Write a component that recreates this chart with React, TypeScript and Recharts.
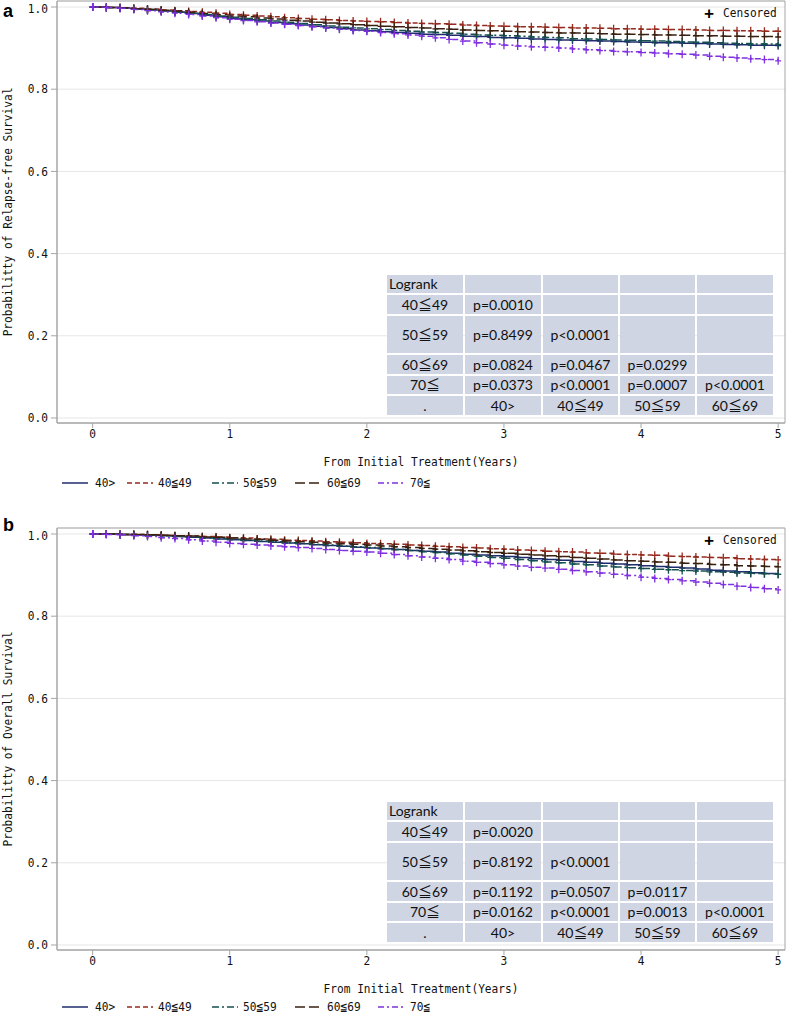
import React from 'react';
import { LineChart, Line, XAxis, YAxis, CartesianGrid, ReferenceArea } from 'recharts';

// ---------- DATA ----------
const TIMES = [
  0.0, 0.1, 0.2, 0.3, 0.4, 0.5, 0.6, 0.7, 0.8, 0.9,
  1.0, 1.1, 1.2, 1.3, 1.4, 1.5, 1.6, 1.7, 1.8, 1.9,
  2.0, 2.1, 2.2, 2.3, 2.4, 2.5, 2.6, 2.7, 2.8, 2.9,
  3.0, 3.1, 3.2, 3.3, 3.4, 3.5, 3.6, 3.7, 3.8, 3.9,
  4.0, 4.1, 4.2, 4.3, 4.4, 4.5, 4.6, 4.7, 4.8, 4.9,
  5.0,
];

const GROUPS = ['40>', '40≦49', '50≦59', '60≦69', '70≦'];

// Panel a: relapse-free survival
const rfs40 = [
  1.000, 0.999, 0.997, 0.995, 0.993, 0.990, 0.987, 0.984, 0.980, 0.976,
  0.972, 0.969, 0.966, 0.962, 0.959, 0.956, 0.953, 0.950, 0.947, 0.944,
  0.942, 0.940, 0.938, 0.936, 0.934, 0.933, 0.931, 0.929, 0.928, 0.926,
  0.925, 0.924, 0.922, 0.921, 0.920, 0.919, 0.918, 0.917, 0.916, 0.915,
  0.914, 0.913, 0.913, 0.912, 0.911, 0.910, 0.909, 0.908, 0.907, 0.907,
  0.906,
];
const rfs40_49 = [
  1.000, 0.999, 0.998, 0.997, 0.995, 0.993, 0.991, 0.989, 0.987, 0.985,
  0.982, 0.980, 0.978, 0.976, 0.974, 0.972, 0.970, 0.969, 0.967, 0.966,
  0.965, 0.964, 0.962, 0.961, 0.960, 0.959, 0.958, 0.956, 0.955, 0.954,
  0.953, 0.952, 0.952, 0.951, 0.950, 0.949, 0.949, 0.948, 0.947, 0.947,
  0.946, 0.946, 0.945, 0.945, 0.944, 0.943, 0.943, 0.942, 0.942, 0.941,
  0.941,
];
const rfs50_59 = [
  1.000, 0.999, 0.998, 0.996, 0.994, 0.991, 0.988, 0.985, 0.982, 0.978,
  0.975, 0.972, 0.969, 0.966, 0.963, 0.960, 0.957, 0.954, 0.951, 0.949,
  0.947, 0.945, 0.943, 0.941, 0.939, 0.938, 0.936, 0.934, 0.932, 0.931,
  0.930, 0.929, 0.927, 0.926, 0.925, 0.923, 0.922, 0.921, 0.920, 0.919,
  0.918, 0.917, 0.916, 0.915, 0.914, 0.913, 0.912, 0.911, 0.910, 0.910,
  0.909,
];
const rfs60_69 = [
  1.000, 0.999, 0.998, 0.996, 0.994, 0.992, 0.990, 0.987, 0.984, 0.981,
  0.978, 0.976, 0.973, 0.971, 0.968, 0.966, 0.963, 0.961, 0.959, 0.957,
  0.955, 0.953, 0.952, 0.950, 0.949, 0.947, 0.946, 0.944, 0.943, 0.942,
  0.941, 0.940, 0.939, 0.938, 0.937, 0.937, 0.936, 0.935, 0.934, 0.934,
  0.933, 0.932, 0.932, 0.931, 0.930, 0.930, 0.929, 0.929, 0.928, 0.928,
  0.927,
];
const rfs70 = [
  1.000, 0.999, 0.997, 0.994, 0.991, 0.988, 0.985, 0.982, 0.978, 0.974,
  0.970, 0.967, 0.964, 0.961, 0.958, 0.955, 0.952, 0.949, 0.946, 0.943,
  0.941, 0.938, 0.935, 0.932, 0.929, 0.925, 0.921, 0.917, 0.913, 0.910,
  0.907, 0.905, 0.903, 0.902, 0.900, 0.898, 0.896, 0.894, 0.892, 0.891,
  0.889, 0.888, 0.886, 0.885, 0.883, 0.880, 0.878, 0.876, 0.874, 0.872,
  0.869,
];

// Panel b: overall survival
const os40 = [
  1.000, 1.000, 0.999, 0.998, 0.997, 0.996, 0.994, 0.992, 0.990, 0.988,
  0.986, 0.984, 0.982, 0.980, 0.978, 0.976, 0.974, 0.972, 0.970, 0.968,
  0.966, 0.964, 0.962, 0.960, 0.958, 0.956, 0.953, 0.951, 0.949, 0.947,
  0.945, 0.943, 0.940, 0.938, 0.936, 0.933, 0.931, 0.929, 0.927, 0.925,
  0.923, 0.921, 0.919, 0.917, 0.915, 0.912, 0.910, 0.908, 0.906, 0.904,
  0.902,
];
const os40_49 = [
  1.000, 1.000, 0.999, 0.999, 0.998, 0.997, 0.996, 0.995, 0.994, 0.993,
  0.991, 0.990, 0.988, 0.987, 0.985, 0.984, 0.983, 0.981, 0.980, 0.979,
  0.977, 0.976, 0.975, 0.973, 0.972, 0.970, 0.969, 0.967, 0.966, 0.964,
  0.963, 0.961, 0.960, 0.958, 0.957, 0.956, 0.954, 0.953, 0.951, 0.950,
  0.949, 0.948, 0.946, 0.945, 0.944, 0.943, 0.942, 0.940, 0.939, 0.938,
  0.937,
];
const os50_59 = [
  1.000, 1.000, 0.999, 0.998, 0.997, 0.996, 0.994, 0.993, 0.991, 0.989,
  0.987, 0.985, 0.983, 0.981, 0.979, 0.977, 0.975, 0.973, 0.971, 0.969,
  0.967, 0.965, 0.962, 0.960, 0.957, 0.955, 0.952, 0.949, 0.946, 0.943,
  0.941, 0.938, 0.935, 0.932, 0.930, 0.927, 0.925, 0.922, 0.920, 0.918,
  0.916, 0.914, 0.913, 0.911, 0.910, 0.908, 0.907, 0.905, 0.904, 0.903,
  0.902,
];
const os60_69 = [
  1.000, 1.000, 0.999, 0.999, 0.998, 0.997, 0.996, 0.995, 0.993, 0.992,
  0.990, 0.988, 0.987, 0.985, 0.983, 0.981, 0.980, 0.978, 0.976, 0.975,
  0.973, 0.971, 0.969, 0.967, 0.965, 0.963, 0.961, 0.959, 0.957, 0.955,
  0.953, 0.951, 0.949, 0.947, 0.945, 0.943, 0.941, 0.939, 0.937, 0.935,
  0.934, 0.932, 0.931, 0.929, 0.928, 0.926, 0.925, 0.923, 0.922, 0.921,
  0.920,
];
const os70 = [
  1.000, 0.999, 0.998, 0.996, 0.994, 0.991, 0.989, 0.986, 0.983, 0.980,
  0.977, 0.975, 0.973, 0.971, 0.969, 0.967, 0.965, 0.962, 0.960, 0.958,
  0.956, 0.953, 0.950, 0.947, 0.944, 0.941, 0.938, 0.934, 0.931, 0.928,
  0.925, 0.922, 0.919, 0.917, 0.914, 0.911, 0.908, 0.905, 0.902, 0.899,
  0.895, 0.892, 0.889, 0.886, 0.883, 0.880, 0.877, 0.873, 0.870, 0.867,
  0.864,
];

const X_TICKS = [0, 1, 2, 3, 4, 5];
const Y_TICKS = [0, 0.2, 0.4, 0.6, 0.8, 1.0];

const TABLE_A = [
  ['Logrank', '', '', '', ''],
  ['40≦49', 'p=0.0010', '', '', ''],
  ['50≦59', 'p=0.8499', 'p<0.0001', '', ''],
  ['60≦69', 'p=0.0824', 'p=0.0467', 'p=0.0299', ''],
  ['70≦', 'p=0.0373', 'p<0.0001', 'p=0.0007', 'p<0.0001'],
  ['.', '40>', '40≦49', '50≦59', '60≦69'],
];
const TABLE_B = [
  ['Logrank', '', '', '', ''],
  ['40≦49', 'p=0.0020', '', '', ''],
  ['50≦59', 'p=0.8192', 'p<0.0001', '', ''],
  ['60≦69', 'p=0.1192', 'p=0.0507', 'p=0.0117', ''],
  ['70≦', 'p=0.0162', 'p<0.0001', 'p=0.0013', 'p<0.0001'],
  ['.', '40>', '40≦49', '50≦59', '60≦69'],
];

// ---------- STYLES ----------
const COLORS = ['#1f2d6e', '#962a1e', '#15504e', '#3a2010', '#8030e0'];
const DASHES = ['', '5 3', '7 3 2 3', '10 4', '6 3 2 3'];
const AX_FONT = '"DejaVu Sans Mono", "Liberation Mono", "Noto Sans CJK JP", monospace';
const AX_SIZE = 13;
const AX_SCALE = 0.86;
const TB_FONT = 'Lato, "Noto Sans CJK JP", sans-serif';
const AXIS_GRAY = '#a6a6a6';
const CELL_BG = '#cfd5e3';

const COL_X = [387, 465, 543, 620, 697];
const COL_W = [76, 76, 75, 75, 76];
const ROW_Y = [275, 295, 316, 355, 376, 396];
const ROW_H = [18, 19, 37, 19, 18, 19];

const LEG_LINE_X = [62, 127, 212, 295, 378];
const LEG_TEXT_X = [95, 158, 243, 327, 410];

const X_DOMAIN = [-0.26, 5.05];
const Y_DOMAIN = [-0.0122, 1.0146];

function buildRows(series: number[][]) {
  return TIMES.map((t, i) => {
    const r: any = { t };
    series.forEach((s, k) => {
      r['g' + k] = s[i];
    });
    return r;
  });
}

// Narrow (condensed) mono text, like the reference's gothic font
function NText(props: { x: number; y: number; anchor?: 'start' | 'middle' | 'end'; rotate?: number; size?: number; weight?: string; fill?: string; children: any }) {
  const { x, y, anchor = 'start', rotate = 0, size = AX_SIZE, weight = 'normal', fill = '#111', children } = props;
  return (
    <text
      transform={`translate(${x},${y}) rotate(${rotate}) scale(${AX_SCALE},1)`}
      x={0}
      y={0}
      textAnchor={anchor}
      dominantBaseline="central"
      fontFamily={AX_FONT}
      fontSize={size}
      fontWeight={weight}
      fill={fill}
    >
      {children}
    </text>
  );
}

const XTick = (props: any) => {
  const { x, y, payload } = props;
  return <NText x={x} y={y + 5} anchor="middle">{String(payload.value)}</NText>;
};
const YTick = (props: any) => {
  const { x, y, payload } = props;
  return <NText x={x} y={y} anchor="end">{Number(payload.value).toFixed(1)}</NText>;
};

const plusDot = (color: string) => (props: any) => {
  const { cx, cy, index } = props;
  if (cx == null || cy == null) return <g key={`e${index}`} />;
  return (
    <path
      key={`p${index}`}
      d={`M${cx - 3},${cy}h6M${cx},${cy - 4}v8`}
      stroke={color}
      strokeWidth={1.3}
      fill="none"
    />
  );
};

function Panel(props: { top: number; height: number; letter: string; letterY: number; legendY: number; yTitle: string; series: number[][]; table: string[][] }) {
  const { top, height, letter, letterY, legendY, yTitle, series, table } = props;
  const data = buildRows(series);
  const plotBottom = 423;
  const xAxisH = 30;
  return (
    <div style={{ position: 'absolute', left: 0, top, width: 787, height }}>
      <LineChart
        width={787}
        height={height}
        data={data}
        margin={{ top: 1, right: 2, left: 0, bottom: height - plotBottom - xAxisH }}
      >
        <CartesianGrid vertical={false} stroke="#e6e6e6" />
        <XAxis
          dataKey="t"
          type="number"
          domain={X_DOMAIN}
          ticks={X_TICKS}
          allowDataOverflow
          height={xAxisH}
          stroke={AXIS_GRAY}
          tickSize={5}
          tickMargin={1}
          tick={<XTick />}
        />
        <YAxis
          type="number"
          domain={Y_DOMAIN}
          ticks={Y_TICKS}
          allowDataOverflow
          width={57}
          stroke={AXIS_GRAY}
          tickSize={6}
          tickMargin={3}
          tick={<YTick />}
        />
        <ReferenceArea
          x1={X_DOMAIN[0]}
          x2={X_DOMAIN[1]}
          y1={Y_DOMAIN[0]}
          y2={Y_DOMAIN[1]}
          fill="none"
          fillOpacity={0}
          stroke={AXIS_GRAY}
          ifOverflow="visible"
        />
        {GROUPS.map((g, k) => (
          <Line
            key={g}
            name={g}
            dataKey={'g' + k}
            type="stepAfter"
            stroke={COLORS[k]}
            strokeWidth={1.5}
            strokeDasharray={DASHES[k] || undefined}
            dot={plusDot(COLORS[k])}
            activeDot={false}
            isAnimationActive={false}
          />
        ))}
      </LineChart>

      {/* Logrank table */}
      {table.map((row, r) =>
        row.map((cell, c) => (
          <div
            key={`${r}-${c}`}
            style={{
              position: 'absolute',
              left: COL_X[c],
              top: ROW_Y[r],
              width: COL_W[c],
              height: ROW_H[r],
              background: CELL_BG,
              fontFamily: TB_FONT,
              fontSize: 14,
              color: '#111',
              display: 'flex',
              alignItems: 'center',
              justifyContent: r === 0 && c === 0 ? 'flex-start' : 'center',
              paddingLeft: r === 0 && c === 0 ? 2 : 0,
              boxSizing: 'border-box',
              lineHeight: 1,
              whiteSpace: 'nowrap',
            }}
          >
            {cell}
          </div>
        ))
      )}

      <svg width={787} height={height} style={{ position: 'absolute', left: 0, top: 0, pointerEvents: 'none', overflow: 'visible' }}>
        <text x={3} y={letterY} fontFamily='"Liberation Sans", Arial, sans-serif' fontWeight="bold" fontSize={18} fill="#000">
          {letter}
        </text>
        <NText x={8} y={212} anchor="middle" rotate={-90}>{yTitle}</NText>
        <NText x={421} y={462} anchor="middle">From Initial Treatment(Years)</NText>
        <text x={709} y={13} textAnchor="middle" dominantBaseline="central" fontFamily={AX_FONT} fontSize={16} fontWeight="bold" fill="#000">
          +
        </text>
        <NText x={723} y={13}>Censored</NText>
        {GROUPS.map((g, k) => (
          <g key={g}>
            <line
              x1={LEG_LINE_X[k]}
              x2={LEG_LINE_X[k] + 26}
              y1={legendY}
              y2={legendY}
              stroke={COLORS[k]}
              strokeWidth={1.5}
              strokeDasharray={DASHES[k] || undefined}
            />
            <NText x={LEG_TEXT_X[k]} y={legendY}>{g}</NText>
          </g>
        ))}
      </svg>
    </div>
  );
}

export default function App() {
  return (
    <div style={{ position: 'absolute', left: 0, top: 0, width: 787, height: 1016, background: '#fff', overflow: 'hidden' }}>
      <Panel
        top={0}
        height={500}
        letter="a"
        letterY={17}
        legendY={483}
        yTitle="Probabilitty of Relapse-free Survival"
        series={[rfs40, rfs40_49, rfs50_59, rfs60_69, rfs70]}
        table={TABLE_A}
      />
      <Panel
        top={527}
        height={489}
        letter="b"
        letterY={4}
        legendY={480}
        yTitle="Probabilitty of Overall Survival"
        series={[os40, os40_49, os50_59, os60_69, os70]}
        table={TABLE_B}
      />
    </div>
  );
}
